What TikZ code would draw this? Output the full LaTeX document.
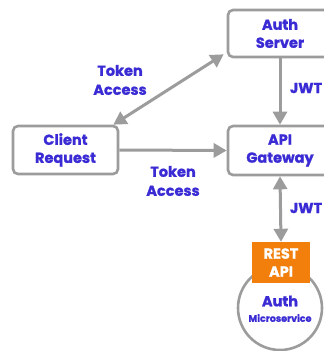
\documentclass[tikz,border=0pt]{standalone}
\usepackage{fontspec}
\setmainfont{Poppins}[BoldFeatures={FakeBold=1.2}]
\usetikzlibrary{arrows.meta,calc}
\definecolor{labelblue}{HTML}{3A2BD4}
\definecolor{linegray}{HTML}{9C9C9C}
\definecolor{restorange}{HTML}{F27F0C}
\tikzset{
  box/.style={draw=linegray, line width=2.6pt, rounded corners=5pt, fill=white,
    font=\fontsize{14.5}{18}\selectfont\bfseries, text=labelblue, align=center},
  lbl/.style={font=\fontsize{14.5}{19}\selectfont\bfseries, text=labelblue, align=center},
  tip/.style={Triangle[length=13pt,width=14pt]},
  conn/.style={draw=linegray, line width=3pt, -{Triangle[length=13pt,width=14pt]}},
  dconn/.style={draw=linegray, line width=3pt,
    {Triangle[length=13pt,width=14pt]}-{Triangle[length=13pt,width=14pt]}}
}
\begin{document}
\begin{tikzpicture}[x=1pt,y=-1pt]
\clip (0,0) rectangle (324,351);
\fill[white] (0,0) rectangle (324,351);
% boxes
\node[box, minimum width=104pt, minimum height=47pt] (auth) at (280,33.5) {Auth\\Server};
\node[box, minimum width=104pt, minimum height=49pt] (api) at (280,150.5) {API\\Gateway};
\node[box, minimum width=105pt, minimum height=48pt] (client) at (65.5,150) {Client\\Request};
% microservice circle with its REST endpoint on top
\node[circle, draw=linegray, line width=2.6pt, minimum size=84pt, inner sep=0pt] (svc) at (280,308) {};
\node[lbl, font=\fontsize{14.5}{14}\selectfont\bfseries] (svcname) at (280,301) {Auth};
\node[lbl, font=\fontsize{9.5}{10}\selectfont\bfseries] (svcsub) at (280,318) {Microservice};
\node[fill=restorange, minimum width=58pt, minimum height=41pt, inner sep=0pt,
  font=\fontsize{14.5}{18}\selectfont\bfseries, text=white, align=center] (rest) at (281,262.5) {REST\\API};
% connectors
\draw[dconn] ($(client.north east)+(-6,0)$) -- ($(auth.south west)+(-3,-4)$);
\draw[conn] (auth.south) -- (api.north);
\draw[conn] (client.east) -- (api.west);
\draw[dconn] (api.south) -- (rest.north);
% labels
\node[lbl] (tok1) at (120,80) {Token\\Access};
\node[lbl] (tok2) at (173,181) {Token\\Access};
\node[lbl] (jwt1) at (306,88) {JWT};
\node[lbl] (jwt2) at (306,208) {JWT};
\end{tikzpicture}
\end{document}
